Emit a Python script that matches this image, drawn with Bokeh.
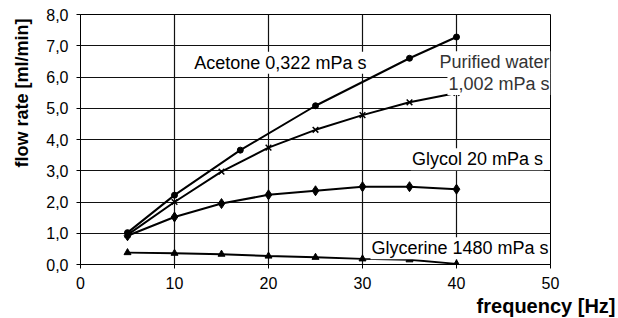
from bokeh.plotting import figure
from bokeh.models import Label, CustomJSTickFormatter, FixedTicker, Range1d, Title
from bokeh.embed import file_html
from bokeh.resources import INLINE

freq_acetone = [5, 10, 17, 25, 35, 40]
acetone = [1.02, 2.22, 3.66, 5.08, 6.60, 7.28]

freq_water = [5, 10, 15, 20, 25, 30, 35, 40]
water = [0.95, 2.00, 2.97, 3.74, 4.31, 4.78, 5.19, 5.49]

freq_glycol = [5, 10, 15, 20, 25, 30, 35, 40]
glycol = [0.92, 1.52, 1.95, 2.23, 2.36, 2.49, 2.49, 2.41]

freq_glycerine = [5, 10, 15, 20, 25, 30, 35, 40]
glycerine = [0.38, 0.36, 0.33, 0.27, 0.23, 0.18, 0.15, 0.02]

x_ticks = [0, 10, 20, 30, 40, 50]
y_ticks = [0, 1, 2, 3, 4, 5, 6, 7, 8]

FONT = "Liberation Sans"

p = figure(width=618, height=318, output_backend="svg", toolbar_location=None,
           x_range=Range1d(0, 50), y_range=Range1d(0, 8),
           min_border_left=80, min_border_right=68, min_border_top=14, min_border_bottom=54)
p.background_fill_color = "white"
p.border_fill_color = "white"
p.outline_line_color = "black"
p.outline_line_width = 1

for ax in (p.xaxis[0], p.yaxis[0]):
    ax.axis_line_color = "black"
    ax.axis_line_width = 1
    ax.major_tick_line_color = "black"
    ax.major_tick_out = 4
    ax.major_tick_in = 0
    ax.minor_tick_line_color = None
    ax.major_label_text_font = FONT
    ax.major_label_text_font_size = "16px"
    ax.major_label_text_color = "black"
p.xaxis[0].major_label_standoff = 8
p.yaxis[0].major_label_standoff = 8

p.xaxis[0].ticker = FixedTicker(ticks=x_ticks)
p.yaxis[0].ticker = FixedTicker(ticks=y_ticks)
p.yaxis[0].formatter = CustomJSTickFormatter(code="return tick.toFixed(1).replace('.', ',');")

p.xgrid.ticker = FixedTicker(ticks=x_ticks)
p.ygrid.ticker = FixedTicker(ticks=y_ticks)
for g in (p.xgrid[0], p.ygrid[0]):
    g.grid_line_color = "#111111"
    g.grid_line_width = 1.2

lw = 2
p.line(freq_acetone, acetone, line_color="black", line_width=lw)
p.scatter(freq_acetone, acetone, marker="circle", size=6, color="black")

p.line(freq_water, water, line_color="black", line_width=lw)
p.scatter(freq_water, water, marker="x", size=8, line_color="black", line_width=1.5)

p.line(freq_glycol, glycol, line_color="black", line_width=lw)
p.scatter(freq_glycol, glycol, marker="diamond", size=10, color="black")

p.line(freq_glycerine, glycerine, line_color="black", line_width=lw)
p.scatter(freq_glycerine, glycerine, marker="triangle", size=7, color="black")

def ann(x, y, text, align, color="black"):
    p.add_layout(Label(x=x, y=y, text=text, text_align=align, text_baseline="middle",
                       text_font=FONT, text_font_size="18px", text_color=color,
                       background_fill_color="white", padding=1))

ann(12.0, 6.46, "Acetone 0,322 mPa s", "left")
ann(50.0, 6.47, "Purified water", "right", "#333333")
ann(50.0, 5.78, "1,002 mPa s", "right", "#333333")
ann(49.3, 3.37, "Glycol 20 mPa s", "right")
ann(49.9, 0.52, "Glycerine 1480 mPa s", "right")

p.add_layout(Title(text="frequency [Hz]", align="right", offset=-65, standoff=2,
                   text_font=FONT, text_font_size="20px", text_font_style="bold",
                   text_color="black"), "below")
p.add_layout(Title(text="flow rate [ml/min]", align="left", vertical_align="top",
                   offset=97, standoff=20,
                   text_font=FONT, text_font_size="18px", text_font_style="bold",
                   text_color="black"), "left")

open("out.html", "w").write(file_html(p, INLINE))
